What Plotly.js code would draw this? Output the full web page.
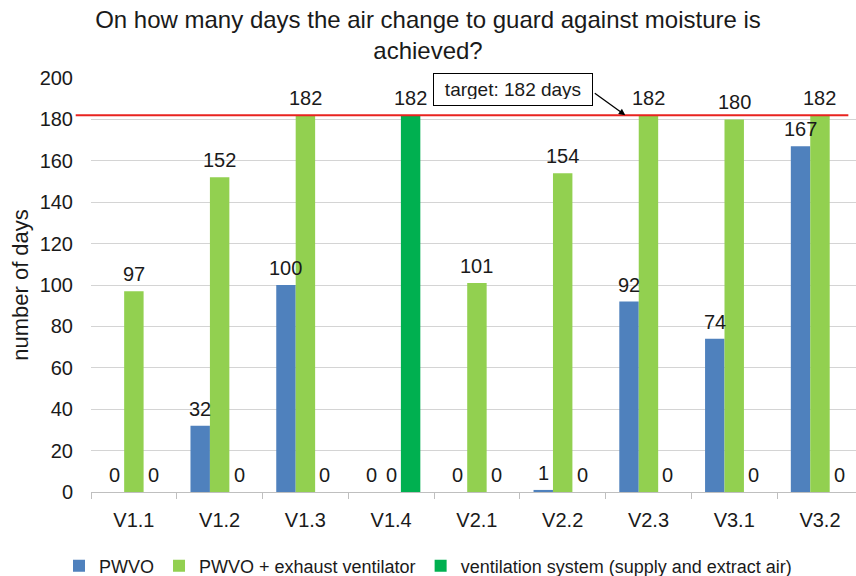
<!DOCTYPE html>
<html>
<head>
<meta charset="utf-8">
<script src="https://cdn.plot.ly/plotly-3.0.1.min.js"></script>
<style>html,body{margin:0;padding:0;background:#fff;}#chart{width:856px;height:576px;}</style>
</head>
<body>
<div id="chart"></div>
<script>
const categories = ['V1.1','V1.2','V1.3','V1.4','V2.1','V2.2','V2.3','V3.1','V3.2'];
const pwvo = [0, 32, 100, 0, 0, 1, 92, 74, 167];
const pwvoExhaust = [97, 152, 182, 0, 101, 154, 182, 180, 182];
const ventSystem = [0, 0, 0, 182, 0, 0, 0, 0, 0];
const seriesNames = ['PWVO', 'PWVO + exhaust ventilator', 'ventilation system (supply and extract air)'];
const target = 182;
const targetLabel = 'target: 182 days';

const font = 'Liberation Sans, Arial, sans-serif';
const colors = ['#4F81BD', '#92D050', '#00B050'];
const series = [pwvo, pwvoExhaust, ventSystem];

const W = 856, H = 576;
const margin = {l: 91, r: 0, t: 78, b: 84};
const xRange = [-0.5, 8.42];
const bargap = 0.32;
const plotW = W - margin.l - margin.r;
const catPx = plotW / (xRange[1] - xRange[0]);
const barPx = catPx * (1 - bargap) / series.length;

const traces = series.map((vals, i) => ({
  type: 'bar',
  name: seriesNames[i],
  x: categories,
  y: vals,
  marker: {color: colors[i]},
  hoverinfo: 'x+y'
}));

// value labels drawn on top of all bars
const labelAnns = [];
series.forEach((vals, i) => {
  vals.forEach((v, j) => {
    labelAnns.push({
      x: categories[j], y: v, xref: 'x', yref: 'y',
      text: String(v), showarrow: false,
      xanchor: 'center', yanchor: 'bottom',
      xshift: (i - (series.length - 1) / 2) * barPx,
      yshift: 4,
      font: {family: font, size: 20, color: '#1a1a1a'}
    });
  });
});

const layout = {
  width: W, height: H,
  margin: margin,
  paper_bgcolor: '#fff', plot_bgcolor: '#fff',
  font: {family: font, color: '#1a1a1a'},
  title: {
    text: 'On how many days the air change to guard against moisture is<br>achieved?',
    font: {family: font, size: 24, color: '#1a1a1a'},
    x: 0.5, xanchor: 'center', xref: 'container',
    y: 0.952, yanchor: 'top'
  },
  barmode: 'group',
  bargap: bargap,
  bargroupgap: 0,
  xaxis: {
    type: 'category',
    range: xRange,
    showgrid: false,
    showline: true, linecolor: '#bfbfbf', linewidth: 1,
    ticks: 'outside', tickson: 'boundaries', ticklen: 6, tickcolor: '#bfbfbf',
    ticklabelstandoff: 10,
    tickfont: {family: font, size: 20, color: '#1a1a1a'},
    fixedrange: true
  },
  yaxis: {
    range: [0, 200],
    dtick: 20,
    showgrid: true, gridcolor: '#d4d4d4', gridwidth: 1,
    zeroline: false,
    showline: false,
    ticks: '',
    ticklabelstandoff: 17,
    tickfont: {family: font, size: 20, color: '#1a1a1a'},
    title: {text: 'number of days', font: {family: font, size: 22, color: '#1a1a1a'}, standoff: 4},
    fixedrange: true
  },
  legend: {
    orientation: 'h',
    xref: 'container', x: 0.5, xanchor: 'center',
    yref: 'container', y: 0.0174, yanchor: 'middle',
    font: {family: font, size: 18, color: '#1a1a1a'},
    itemwidth: 30,
    traceorder: 'normal'
  },
  shapes: [{
    type: 'line', xref: 'paper', yref: 'y',
    x0: -0.02, x1: 0.99, y0: target, y1: target,
    line: {color: '#e8231f', width: 2}
  }],
  annotations: labelAnns.concat([
    {
      xref: 'paper', yref: 'paper', x: 0.5516, y: 0.972,
      xanchor: 'center', yanchor: 'middle',
      text: targetLabel, showarrow: false,
      width: 146, height: 19, align: 'center',
      bordercolor: '#000', borderwidth: 1, borderpad: 6, bgcolor: '#fff',
      font: {family: font, size: 19, color: '#1a1a1a'}
    },
    {
      x: 5.73, y: target, xref: 'x', yref: 'y',
      text: '', showarrow: true, arrowhead: 2, arrowsize: 1, arrowwidth: 1.3, arrowcolor: '#000',
      ax: -32, ay: -23
    }
  ]),
  showlegend: true
};

Plotly.newPlot('chart', traces, layout, {displayModeBar: false, staticPlot: true});
</script>
</body>
</html>
